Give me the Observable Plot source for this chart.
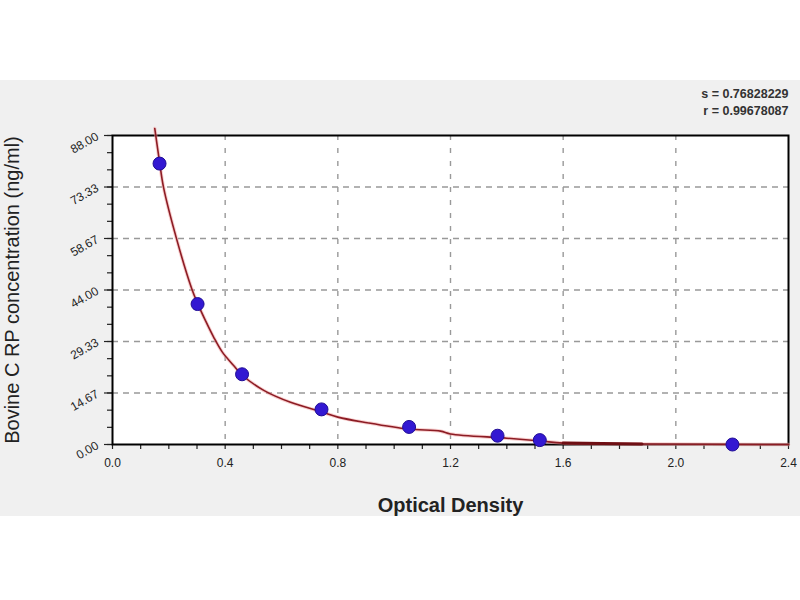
<!DOCTYPE html>
<html>
<head>
<meta charset="utf-8">
<script src="https://cdn.jsdelivr.net/npm/d3@7"></script>
<script src="https://cdn.jsdelivr.net/npm/@observablehq/plot@0.6"></script>
<style>
  body { margin: 0; background: #fff; }
  #chart {
    width: 800px; height: 600px;
    background: linear-gradient(#fff 0 80px, #f0f0f0 80px 516px, #fff 516px);
  }
  #chart svg { display: block; }
</style>
</head>
<body>
<div id="chart"></div>
<script>
// standards: optical density vs concentration
const od   = [0.167, 0.302, 0.460, 0.742, 1.053, 1.367, 1.517, 2.201];
const conc = [80, 40, 20, 10, 5, 2.5, 1.25, 0];

// fitted curve
const fitOD   = [0.150, 0.167, 0.181, 0.227, 0.282, 0.302, 0.330, 0.359, 0.390, 0.430, 0.460, 0.537, 0.632, 0.742, 0.800, 0.904, 1.050, 1.165, 1.200, 1.400, 1.520, 1.600, 1.880, 2.400];
const fitConc = [90.0, 80.5, 73.3, 58.7, 44.2, 40.2, 35.3, 30.6, 26.3, 22.5, 19.8, 15.4, 12.0, 9.3, 7.8, 6.2, 4.4, 3.8, 3.0, 1.8, 1.0, 0.4, 0.15, 0];

const xTicks = [0, 0.4, 0.8, 1.2, 1.6, 2.0, 2.4];
const xMinor = d3.range(0, 25).map(d => d / 10);
const yTicks = [0, 14.67, 29.33, 44, 58.67, 73.33, 88];
const yMinor = d3.range(0, 19).map(d => d * 88 / 18);
const stats = ["s = 0.76828229", "r = 0.99678087"];

const points = od.map((x, i) => ({x, y: conc[i]}));
const fit = fitOD.map((x, i) => ({x, y: fitConc[i]}));

const chart = Plot.plot({
  width: 800,
  height: 600,
  marginLeft: 112,
  marginRight: 12,
  marginTop: 135,
  marginBottom: 156,
  style: { background: "transparent", fontFamily: "Liberation Sans, Arial, sans-serif", color: "#222" },
  x: { domain: [0, 2.4] },
  y: { domain: [0, 88] },
  marks: [
    Plot.frame({ fill: "white" }),
    Plot.gridX(xTicks.slice(1, -1), { stroke: "#999", strokeOpacity: 1, strokeWidth: 1.4, strokeDasharray: "5,8" }),
    Plot.gridY(yTicks.slice(1, -1), { stroke: "#999", strokeOpacity: 1, strokeWidth: 1.4, strokeDasharray: "6,5" }),
    // minor + major ticks
    Plot.axisX({ ticks: xMinor, tickSize: 5, tickFormat: () => "", label: null, strokeWidth: 1.2 }),
    Plot.axisY({ ticks: yMinor, tickSize: 5, tickFormat: () => "", label: null, strokeWidth: 1.2 }),
    Plot.axisY({ ticks: yTicks, tickSize: 8, tickFormat: () => "", label: null, strokeWidth: 1.2 }),
    // tick labels
    Plot.axisX({ ticks: xTicks, tickSize: 0, tickPadding: 14, tickFormat: d3.format(".1f"), fontSize: 12, label: null }),
    Plot.axisY({ ticks: yTicks, tickSize: 0, tickPadding: 15, tickRotate: -30, tickFormat: d3.format(".2f"), fontSize: 12, label: null }),
    // axis titles
    Plot.axisX({ ticks: [], label: "Optical Density", labelAnchor: "center", labelArrow: "none", labelOffset: 67,
      fontSize: 20, fontWeight: "bold" }),
    Plot.axisY({ ticks: [], label: "Bovine C RP concentration (ng/ml)", labelAnchor: "center", labelArrow: "none",
      labelOffset: 108, fontSize: 20 }),
    Plot.frame({ stroke: "black", strokeWidth: 2 }),
    Plot.line(fit, { x: "x", y: "y", curve: "catmull-rom", stroke: "#f2a0a0", strokeWidth: 3.5, strokeOpacity: 0.5 }),
    Plot.line(fit, { x: "x", y: "y", curve: "catmull-rom", stroke: "#8c1c24", strokeWidth: 1.6 }),
    Plot.line(fit.filter(d => d.x >= 1.6 && d.x <= 1.88), { x: "x", y: "y", stroke: "#6e0f14", strokeWidth: 3 }),
    Plot.dot(points, { x: "x", y: "y", r: 6.5, fill: "#3318d2", stroke: "#200d96", strokeWidth: 1 }),
    Plot.text([stats[0]], { frameAnchor: "top-right", dy: -46, textAnchor: "end", fontSize: 12.5, fontWeight: "bold", fill: "#333" }),
    Plot.text([stats[1]], { frameAnchor: "top-right", dy: -29, textAnchor: "end", fontSize: 12.5, fontWeight: "bold", fill: "#333" })
  ]
});

document.getElementById("chart").replaceChildren(chart);
</script>
</body>
</html>
